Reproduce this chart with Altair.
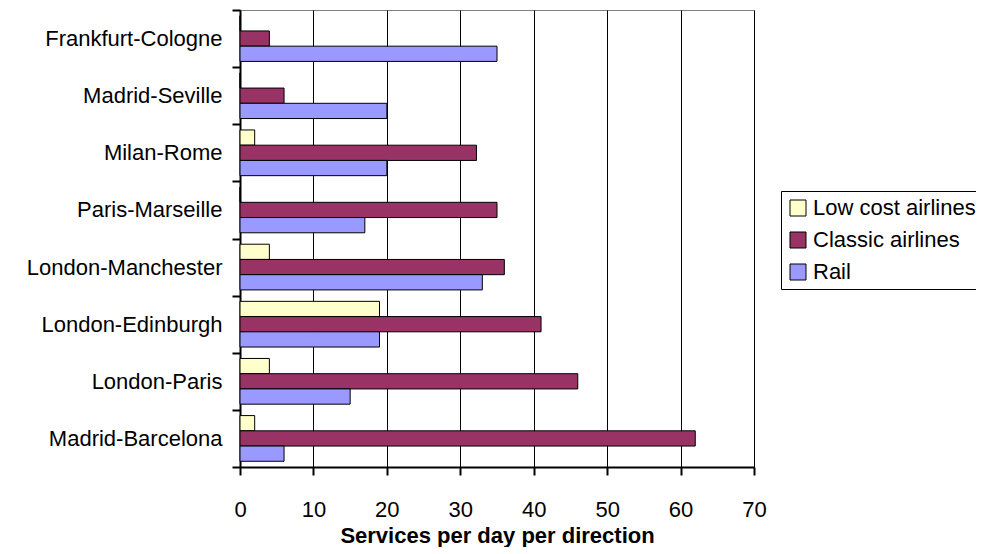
import altair as alt
import pandas as pd

routes = ["Frankfurt-Cologne", "Madrid-Seville", "Milan-Rome", "Paris-Marseille",
          "London-Manchester", "London-Edinburgh", "London-Paris", "Madrid-Barcelona"]
series = ["Low cost airlines", "Classic airlines", "Rail"]
low_cost = [0, 0, 2, 0, 4, 19, 4, 2]
classic = [4, 6, 32.2, 35, 36, 41, 46, 62]
rail = [35, 20, 20, 17, 33, 19, 15, 6]
colors = ["#FFFFCC", "#993366", "#9999FF"]
x_ticks = [0, 10, 20, 30, 40, 50, 60, 70]

rows = []
for i, r in enumerate(routes):
    for s, vals in zip(series, [low_cost, classic, rail]):
        rows.append({"route": r, "series": s, "value": vals[i]})
df = pd.DataFrame(rows)

FONT = "Liberation Sans"
FS = 22

chart = alt.Chart(df).mark_bar(stroke="black", strokeWidth=1).encode(
    x=alt.X("value:Q",
            scale=alt.Scale(domain=[0, 70], nice=False, zero=True),
            axis=alt.Axis(values=x_ticks, title="Services per day per direction",
                          grid=True, gridColor="black", gridWidth=1,
                          domainColor="black", domainWidth=2,
                          tickColor="black", tickWidth=2, tickSize=8,
                          labelFont=FONT, labelFontSize=FS, labelColor="black",
                          labelPadding=24, labelFlush=False,
                          titleFont=FONT, titleFontSize=FS, titleFontWeight="bold",
                          titleColor="black", titlePadding=5)),
    y=alt.Y("route:N", sort=routes,
            scale=alt.Scale(paddingInner=0, paddingOuter=0),
            axis=alt.Axis(title=None, tickBand="extent", grid=False,
                          domainColor="black", domainWidth=2,
                          tickColor="black", tickWidth=2, tickSize=8,
                          labelFont=FONT, labelFontSize=FS, labelColor="black",
                          labelPadding=10, labelLimit=400)),
    yOffset=alt.YOffset("series:N", sort=series,
                        scale=alt.Scale(domain=series, paddingInner=0, paddingOuter=0.375)),
    fill=alt.Fill("series:N",
                  scale=alt.Scale(domain=series, range=colors),
                  legend=alt.Legend(title=None, orient="none", legendX=541, legendY=181,
                                    strokeColor="black", fillColor="white", padding=6,
                                    rowPadding=10, symbolType="square", symbolSize=256,
                                    symbolStrokeColor="black", symbolStrokeWidth=1,
                                    labelFont=FONT, labelFontSize=FS, labelColor="black",
                                    labelOffset=4, labelLimit=400)),
).properties(
    width=514, height=457,
    autosize=alt.AutoSizeParams(type="none"),
    padding={"left": 232, "top": 2, "right": 222, "bottom": 80},
).configure_view(stroke="#808080", strokeWidth=1)

chart.save("out.html", embed_options={"renderer": "svg", "actions": False})
